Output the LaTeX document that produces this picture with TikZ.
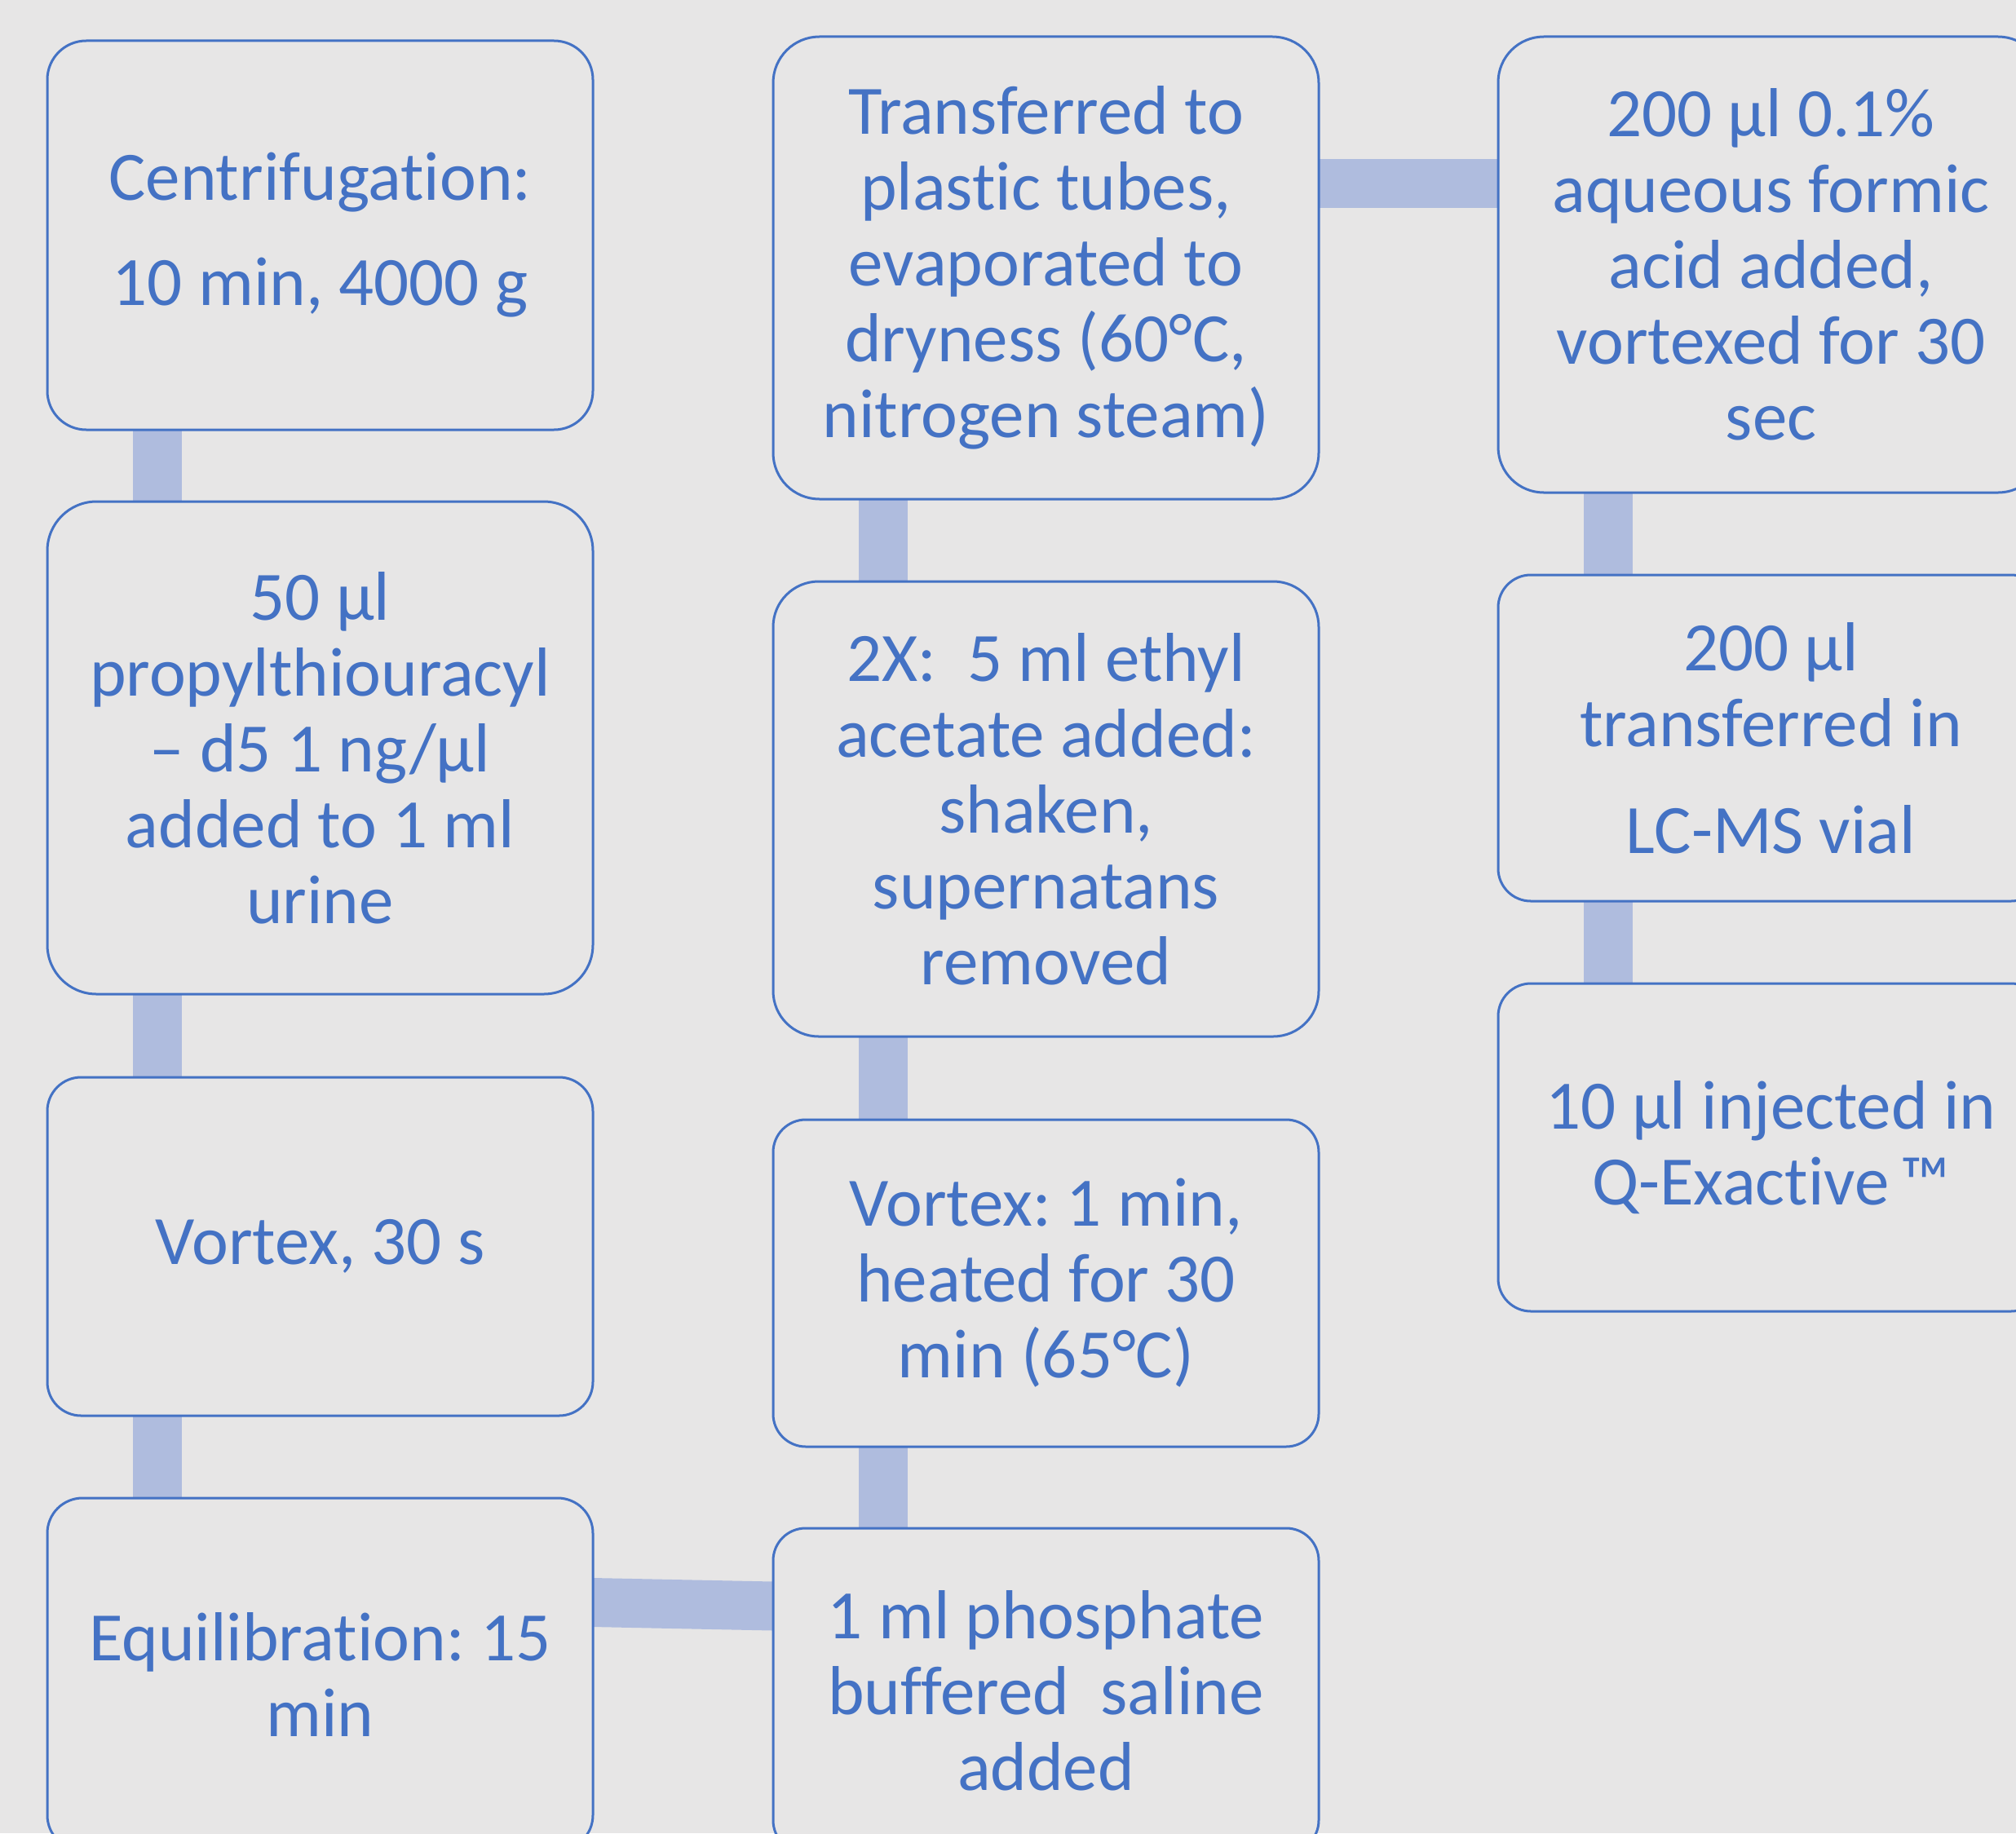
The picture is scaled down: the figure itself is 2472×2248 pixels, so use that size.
\documentclass[tikz,border=0pt]{standalone}
\usepackage{fontspec}
\setmainfont{Carlito}[Ligatures={NoCommon}]
\frenchspacing
\pgfdeclarelayer{paper}
\pgfdeclarelayer{links}
\pgfsetlayers{paper,links,main}
\definecolor{bg}{HTML}{E7E6E6}
\definecolor{ink}{HTML}{4472C4}
\definecolor{linkc}{HTML}{AFBCDE}
\begin{document}
\begin{tikzpicture}[x=1pt,y=-1pt,
  box/.style={shape=rectangle, draw=ink, line width=3pt, fill=bg, text=ink,
    align=center, minimum width=669pt, outer sep=0pt, inner sep=0pt,
    font=\frenchspacing\fontsize{85}{93}\selectfont},
  conn/.style={draw=linkc, line width=60pt, line cap=butt}]
\useasboundingbox (0,0) rectangle (2472,2248);
\clip (0,0) rectangle (2472,2248);
\begin{pgfonlayer}{paper}
\fill[bg] (0,0) rectangle (2472,2248);
\end{pgfonlayer}
% column 1
\node[box, minimum height=477pt, rounded corners=47.7pt] (A) at (392.5,288.5)
  {Centrifugation:\\[36pt]10 min, 4000 g};
\node[box, minimum height=604pt, rounded corners=60.4pt] (B) at (392.5,917)
  {50 µl\\propylthiouracyl\\– d5 1 ng/µl\\added to 1 ml\\urine};
\node[box, minimum height=415pt, rounded corners=41.5pt] (C) at (392.5,1528.5)
  {Vortex, 30 s};
\node[box, minimum height=432pt, rounded corners=43.2pt] (D) at (392.5,2053)
  {Equilibration: 15\\min};
% column 2
\node[box, minimum height=567pt, rounded corners=56.7pt] (E) at (1282.5,328.5)
  {Transferred to\\plastic tubes,\\evaporated to\\dryness (60°C,\\nitrogen steam)};
\node[box, minimum height=558pt, rounded corners=55.8pt] (F) at (1282.5,992)
  {2X:\ \ 5 ml ethyl\\acetate added:\\shaken,\\supernatans\\removed};
\node[box, minimum height=401pt, rounded corners=40.1pt] (G) at (1282.5,1573.5)
  {Vortex: 1 min,\\heated for 30\\min (65°C)};
\node[box, minimum height=398pt, rounded corners=39.8pt] (H) at (1282.5,2073)
  {1 ml phosphate\\buffered\ \ saline\\added};
% column 3
\node[box, minimum height=559pt, rounded corners=55.9pt] (I) at (2171.5,324.5)
  {200 µl 0.1\%\\aqueous formic\\acid added,\\vortexed for 30\\sec};
\node[box, minimum height=400pt, rounded corners=40pt] (J) at (2171.5,905)
  {200 µl\\transferred in\\[38pt]LC-MS vial};
\node[box, minimum height=402pt, rounded corners=40.2pt] (K) at (2171.5,1407)
  {10 µl injected in\\Q-Exactive\,™};
% connectors
\begin{pgfonlayer}{links}
\draw[conn] ([xshift=135pt]A.south west) -- ([xshift=135pt]B.north west);
\draw[conn] ([xshift=135pt]B.south west) -- ([xshift=135pt]C.north west);
\draw[conn] ([xshift=135pt]C.south west) -- ([xshift=135pt]D.north west);
\draw[conn] ([yshift=-128pt]D.north east) -- ([yshift=-95.5pt]H.north west);
\draw[conn] ([xshift=135pt]H.north west) -- ([xshift=135pt]G.south west);
\draw[conn] ([xshift=135pt]G.north west) -- ([xshift=135pt]F.south west);
\draw[conn] ([xshift=135pt]F.north west) -- ([xshift=135pt]E.south west);
\draw[conn] ([yshift=-179.5pt]E.north east) -- ([yshift=-179.5pt]I.north west);
\draw[conn] ([xshift=135pt]I.south west) -- ([xshift=135pt]J.north west);
\draw[conn] ([xshift=135pt]J.south west) -- ([xshift=135pt]K.north west);
\end{pgfonlayer}
\end{tikzpicture}
\end{document}
